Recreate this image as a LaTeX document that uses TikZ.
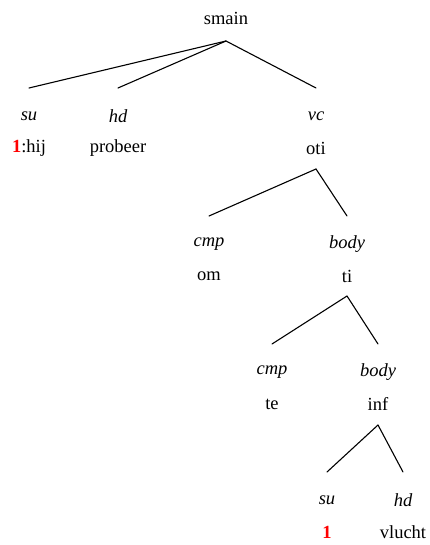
\documentclass[tikz,border=0pt]{standalone}
\usepackage{fontspec}
\setmainfont{Liberation Serif}
\begin{document}
\begin{tikzpicture}[x=1pt,y=-1pt,
  txt/.style={inner sep=0pt,font=\fontsize{18.5}{22}\selectfont},
  lbl/.style={txt,font=\fontsize{18.5}{22}\selectfont\itshape},
  edge/.style={line width=1.1pt,line cap=round}]
\useasboundingbox (0,0) rectangle (430,545);
\newcommand{\idx}{\textcolor{red}{\textbf{1}}}
% nodes
\node[txt] (smain) at (226,18) {smain};
\node[lbl] (l1) at (29,116) {su};
\node[lbl] (l2) at (118,116) {hd};
\node[lbl] (l3) at (316,116) {vc};
\node[txt] (w1) at (29,148) {\idx:hij};
\node[txt] (w2) at (118,148) {probeer};
\node[txt] (oti) at (316,148) {oti};
\node[lbl] (l4) at (209,244) {cmp};
\node[lbl] (l5) at (347,244) {body};
\node[txt] (om) at (209,276) {om};
\node[txt] (ti) at (347,276) {ti};
\node[lbl] (l6) at (272,372) {cmp};
\node[lbl] (l7) at (378,372) {body};
\node[txt] (te) at (272,404) {te};
\node[txt] (inf) at (378,404) {inf};
\node[lbl] (l8) at (327,500) {su};
\node[lbl] (l9) at (403,500) {hd};
\node[txt] (w8) at (327,532) {\idx};
\node[txt] (vl) at (403,532) {vlucht};
% edges
\foreach \c in {l1,l2,l3}
  \draw[edge] ([yshift=-23pt]smain.center) -- ([yshift=28pt]\c.center);
\foreach \c in {l4,l5}
  \draw[edge] ([yshift=-21pt]oti.center) -- ([yshift=28pt]\c.center);
\foreach \c in {l6,l7}
  \draw[edge] ([yshift=-20pt]ti.center) -- ([yshift=28pt]\c.center);
\foreach \c in {l8,l9}
  \draw[edge] ([yshift=-21pt]inf.center) -- ([yshift=28pt]\c.center);
\end{tikzpicture}
\end{document}
